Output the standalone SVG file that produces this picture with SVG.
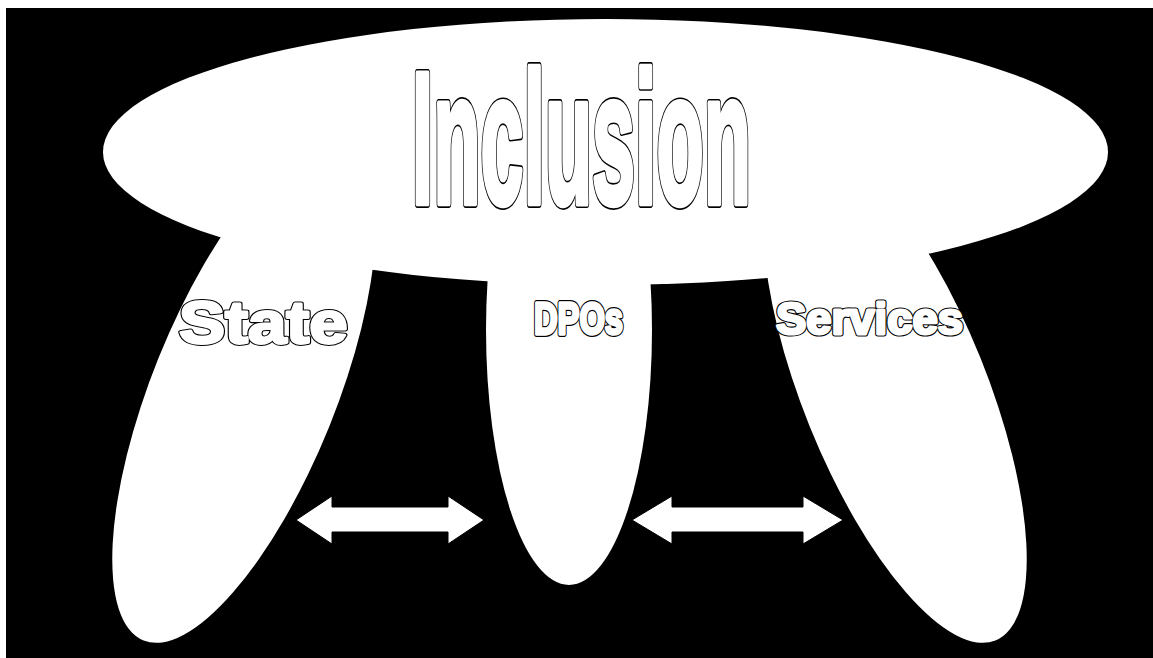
<svg xmlns="http://www.w3.org/2000/svg" xmlns:xlink="http://www.w3.org/1999/xlink" width="1153" height="658" viewBox="0 0 1153 658">
<style>
.shape{fill:#fff;stroke:none}
.txt{font-family:"Liberation Sans",Arial,sans-serif;font-weight:bold;vector-effect:non-scaling-stroke;stroke-linejoin:round}
.outer{fill:#000;stroke:#000}
.inner{fill:#fff;stroke:#fff}
.big.outer{stroke-width:7.5}
.big.inner{stroke-width:5}
.sm.outer{stroke-width:5.2}
.sm.inner{stroke-width:3}
.arr{fill:#fff;stroke:#000;stroke-width:1}
</style>
<defs>
<text id="t-inclusion" class="txt" x="0" y="0" font-size="188" vector-effect="non-scaling-stroke" transform="translate(411.8 203.3) scale(0.411 1)">Inclusion</text>
<text id="t-state" class="txt" x="0" y="0" font-size="60" vector-effect="non-scaling-stroke" transform="translate(179 343) scale(1.15 1)">State</text>
<text id="t-dpos" class="txt" x="0" y="0" font-size="45" vector-effect="non-scaling-stroke" transform="translate(534 333.5) scale(0.727 1)">DPOs</text>
<text id="t-services" class="txt" x="0" y="0" font-size="45" vector-effect="non-scaling-stroke" transform="translate(776 333.5) scale(1.01 1)">Services</text>
</defs>
<rect x="0" y="0" width="1153" height="658" fill="#fff"/>
<rect x="6" y="8" width="1147" height="650" fill="#000"/>
<g id="state">
<ellipse class="shape" cx="244" cy="392" rx="92" ry="268" transform="rotate(22 244 392)"/>
</g>
<g id="dpos">
<ellipse class="shape" cx="569" cy="330" rx="83" ry="255"/>
</g>
<g id="services">
<ellipse class="shape" cx="895" cy="392" rx="92" ry="268" transform="rotate(-22 895 392)"/>
</g>
<g id="inclusion">
<ellipse class="shape" cx="605.5" cy="152" rx="502.5" ry="133"/>
<use xlink:href="#t-inclusion" class="txt big outer"/>
<use xlink:href="#t-inclusion" class="txt big inner"/>
</g>
<g id="labels">
<use xlink:href="#t-state" class="txt sm outer"/>
<use xlink:href="#t-state" class="txt sm inner"/>
<use xlink:href="#t-dpos" class="txt sm outer"/>
<use xlink:href="#t-dpos" class="txt sm inner"/>
<use xlink:href="#t-services" class="txt sm outer"/>
<use xlink:href="#t-services" class="txt sm inner"/>
</g>
<g id="connectors">
<polygon class="arr" points="296,520 332,496 332,507 448,507 448,496 484,520 448,544 448,532 332,532 332,544"/>
<polygon class="arr" points="632,520 672,496 672,507 803,507 803,496 843,520 803,544 803,532 672,532 672,544"/>
</g>
</svg>
